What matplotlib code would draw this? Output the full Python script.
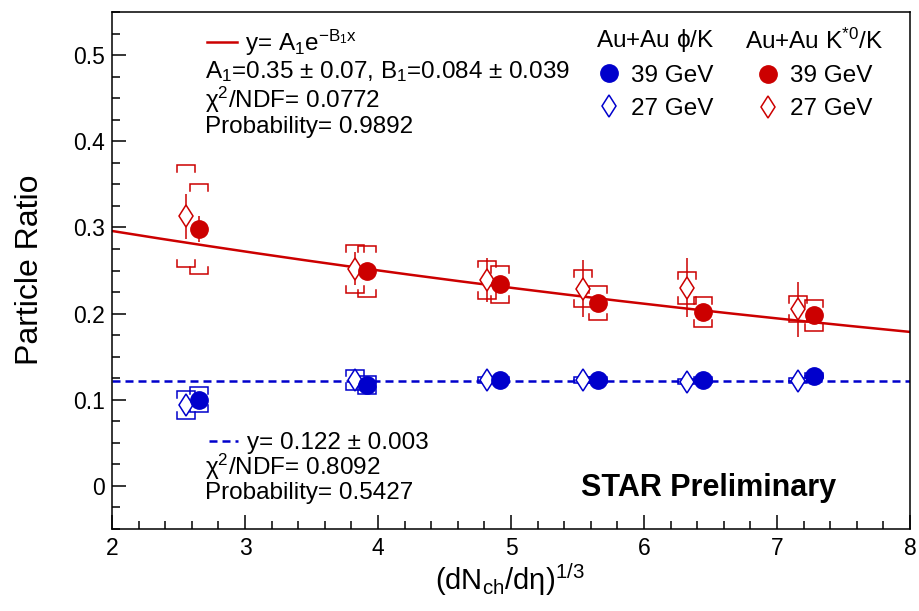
import matplotlib
matplotlib.use("Agg")
import matplotlib.pyplot as plt
import numpy as np
from matplotlib.lines import Line2D

plt.rcParams['font.family'] = ['Liberation Sans', 'DejaVu Sans']
plt.rcParams['mathtext.fontset'] = 'custom'
plt.rcParams['mathtext.rm'] = 'Liberation Sans'
plt.rcParams['mathtext.it'] = 'Liberation Sans:italic'
plt.rcParams['mathtext.bf'] = 'Liberation Sans:bold'
plt.rcParams['mathtext.default'] = 'regular'

# ---------------- data ----------------
# K*0/K, Au+Au 39 GeV (filled red circles)
kst39_x = [2.654, 3.917, 4.917, 5.654, 6.444, 7.278]
kst39_y = [0.298, 0.249, 0.234, 0.212, 0.202, 0.198]
kst39_stat = [0.015, 0.010, 0.010, 0.008, 0.009, 0.008]
kst39_sys = [0.052, 0.030, 0.0215, 0.020, 0.0175, 0.018]

# K*0/K, Au+Au 27 GeV (open red diamonds)
kst27_x = [2.556, 3.827, 4.820, 5.541, 6.323, 7.158]
kst27_y = [0.313, 0.252, 0.239, 0.229, 0.230, 0.205]
kst27_stat = [0.026, 0.019, 0.025, 0.033, 0.034, 0.032]
kst27_sys = [0.059, 0.028, 0.0225, 0.0215, 0.0185, 0.015]

# phi/K, Au+Au 39 GeV (filled blue circles)
phi39_x = [2.654, 3.917, 4.917, 5.654, 6.444, 7.278]
phi39_y = [0.100, 0.117, 0.123, 0.123, 0.123, 0.128]
phi39_stat = [0.004, 0.003, 0.003, 0.003, 0.003, 0.003]
phi39_sys = [0.0145, 0.0105, 0.003, 0.003, 0.003, 0.003]

# phi/K, Au+Au 27 GeV (open blue diamonds)
phi27_x = [2.556, 3.827, 4.820, 5.541, 6.323, 7.158]
phi27_y = [0.094, 0.123, 0.123, 0.123, 0.121, 0.122]
phi27_stat = [0.005, 0.005, 0.005, 0.005, 0.005, 0.005]
phi27_sys = [0.016, 0.012, 0.003, 0.003, 0.003, 0.003]

# fit parameters
fit_A1, fit_B1 = 0.35, 0.084
fit_const = 0.122

RED = '#cc0000'
BLUE = '#0000cc'
DMS = 11.5   # diamond marker size
CMS = 12.5   # circle marker size

# ---------------- figure ----------------
W, H = 919, 611
fig = plt.figure(figsize=(W / 100, H / 100), dpi=100)
L, R, T, B = 112, 910, 12, 529
ax = fig.add_axes([L / W, (H - B) / H, (R - L) / W, (B - T) / H])
ax.set_xlim(2, 8)
ax.set_ylim(-0.05, 0.55)


def px(x, y):
    return ((x - L) / (R - L), (B - y) / (B - T))


# fits
xf = np.linspace(2, 8, 200)
fitline, = ax.plot(xf, fit_A1 * np.exp(-fit_B1 * xf), color=RED, lw=1.8, zorder=2)
constline, = ax.plot([2, 8], [fit_const, fit_const], color=BLUE, lw=1.8,
                     dashes=(3.2, 2.0), zorder=2)


def brackets(xs, ys, ss, color, w=0.065, leg=0.008):
    for xi, yi, si in zip(xs, ys, ss):
        lg = min(leg, si)
        ax.plot([xi - w, xi - w, xi + w, xi + w], [yi + si - lg, yi + si, yi + si, yi + si - lg],
                color=color, lw=1.1, zorder=3, solid_joinstyle='miter')
        ax.plot([xi - w, xi - w, xi + w, xi + w], [yi - si + lg, yi - si, yi - si, yi - si + lg],
                color=color, lw=1.1, zorder=3, solid_joinstyle='miter')


brackets(kst27_x, kst27_y, kst27_sys, RED)
brackets(kst39_x, kst39_y, kst39_sys, RED)
brackets(phi27_x, phi27_y, phi27_sys, BLUE)
brackets(phi39_x, phi39_y, phi39_sys, BLUE)

ax.errorbar(kst27_x, kst27_y, yerr=kst27_stat, fmt='d', ms=DMS, mfc='white', mec=RED,
            mew=1.1, color=RED, elinewidth=1.1, capsize=0, zorder=4)
ax.errorbar(kst39_x, kst39_y, yerr=kst39_stat, fmt='o', ms=CMS, color=RED,
            elinewidth=1.1, capsize=0, zorder=5)
ax.errorbar(phi27_x, phi27_y, yerr=phi27_stat, fmt='d', ms=DMS, mfc='white', mec=BLUE,
            mew=1.1, color=BLUE, elinewidth=1.1, capsize=0, zorder=4)
ax.errorbar(phi39_x, phi39_y, yerr=phi39_stat, fmt='o', ms=CMS, color=BLUE,
            elinewidth=1.1, capsize=0, zorder=5)

# ---------------- axes styling ----------------
for s in ax.spines.values():
    s.set_linewidth(1.1)
ax.set_xticks(np.arange(2, 8.01, 1))
ax.set_xticks(np.arange(2, 8.01, 0.2), minor=True)
ax.set_yticks(np.arange(0, 0.51, 0.1))
ax.set_yticks(np.arange(-0.05, 0.551, 0.025), minor=True)
ax.set_xticklabels(['2', '3', '4', '5', '6', '7', '8'])
ax.set_yticklabels(['0', '0.1', '0.2', '0.3', '0.4', '0.5'])
ax.tick_params(which='both', direction='in', top=False, right=False, width=1.1)
ax.tick_params(which='major', length=10, labelsize=16.5)
ax.tick_params(axis='y', which='major', pad=5)
ax.tick_params(axis='x', which='major', pad=6)
ax.tick_params(which='minor', length=5.5)

fig.text(30 / W, 1 - 270 / H, 'Particle Ratio', rotation=90, ha='center', va='center',
         fontsize=23)
fig.text(510 / W, 1 - 580 / H, r'(dN$_{ch}$/d$\eta$)$^{1/3}$', ha='center', va='center',
         fontsize=21)

TS = 17.5
# fit legends
lg1 = ax.legend(handles=[fitline], labels=[r'y= A$_1$e$^{-B_1x}$'], loc='center left',
                bbox_to_anchor=px(207, 43), frameon=False, fontsize=TS, handlelength=1.25,
                handletextpad=0.3, borderpad=0, borderaxespad=0)
ax.add_artist(lg1)
lg2 = ax.legend(handles=[constline], labels=['y= 0.122 ± 0.003'], loc='center left',
                bbox_to_anchor=px(209, 443), frameon=False, fontsize=TS, handlelength=1.2,
                handletextpad=0.35, borderpad=0, borderaxespad=0)
ax.add_artist(lg2)

# marker legends
h_b39 = Line2D([], [], ls='none', marker='o', ms=CMS, color=BLUE)
h_b27 = Line2D([], [], ls='none', marker='d', ms=DMS, mfc='white', mec=BLUE, mew=1.1)
h_r39 = Line2D([], [], ls='none', marker='o', ms=CMS, color=RED)
h_r27 = Line2D([], [], ls='none', marker='d', ms=DMS, mfc='white', mec=RED, mew=1.1)
lg3 = ax.legend(handles=[h_b39, h_b27], labels=['39 GeV', '27 GeV'],
                title=r'Au+Au $\phi$/K', loc='upper left', bbox_to_anchor=px(596, 27),
                frameon=False, fontsize=TS, title_fontsize=TS, alignment='center',
                handlelength=1.0, handletextpad=0.4, labelspacing=0.45,
                borderpad=0, borderaxespad=0)
ax.add_artist(lg3)
lg4 = ax.legend(handles=[h_r39, h_r27], labels=['39 GeV', '27 GeV'],
                title=r'Au+Au K$^{*0}$/K', loc='upper left', bbox_to_anchor=px(745, 29),
                frameon=False, fontsize=TS, title_fontsize=TS, alignment='center',
                handlelength=1.0, handletextpad=0.4, labelspacing=0.45,
                borderpad=0, borderaxespad=0)

# fit result text
def txt(x, y, s, **kw):
    ax.text(*px(x, y), s, transform=ax.transAxes, fontsize=kw.pop('fontsize', TS),
            ha=kw.pop('ha', 'left'), va='center', **kw)


txt(205, 72, r'A$_1$=0.35 ± 0.07, B$_1$=0.084 ± 0.039')
txt(205, 100, r'$\chi^2$/NDF= 0.0772')
txt(205, 127, 'Probability= 0.9892')
txt(205, 467, r'$\chi^2$/NDF= 0.8092')
txt(205, 493, 'Probability= 0.5427')
txt(709, 488, 'STAR Preliminary', ha='center', fontsize=22, fontweight='bold')

fig.savefig('out.png', dpi=100)
